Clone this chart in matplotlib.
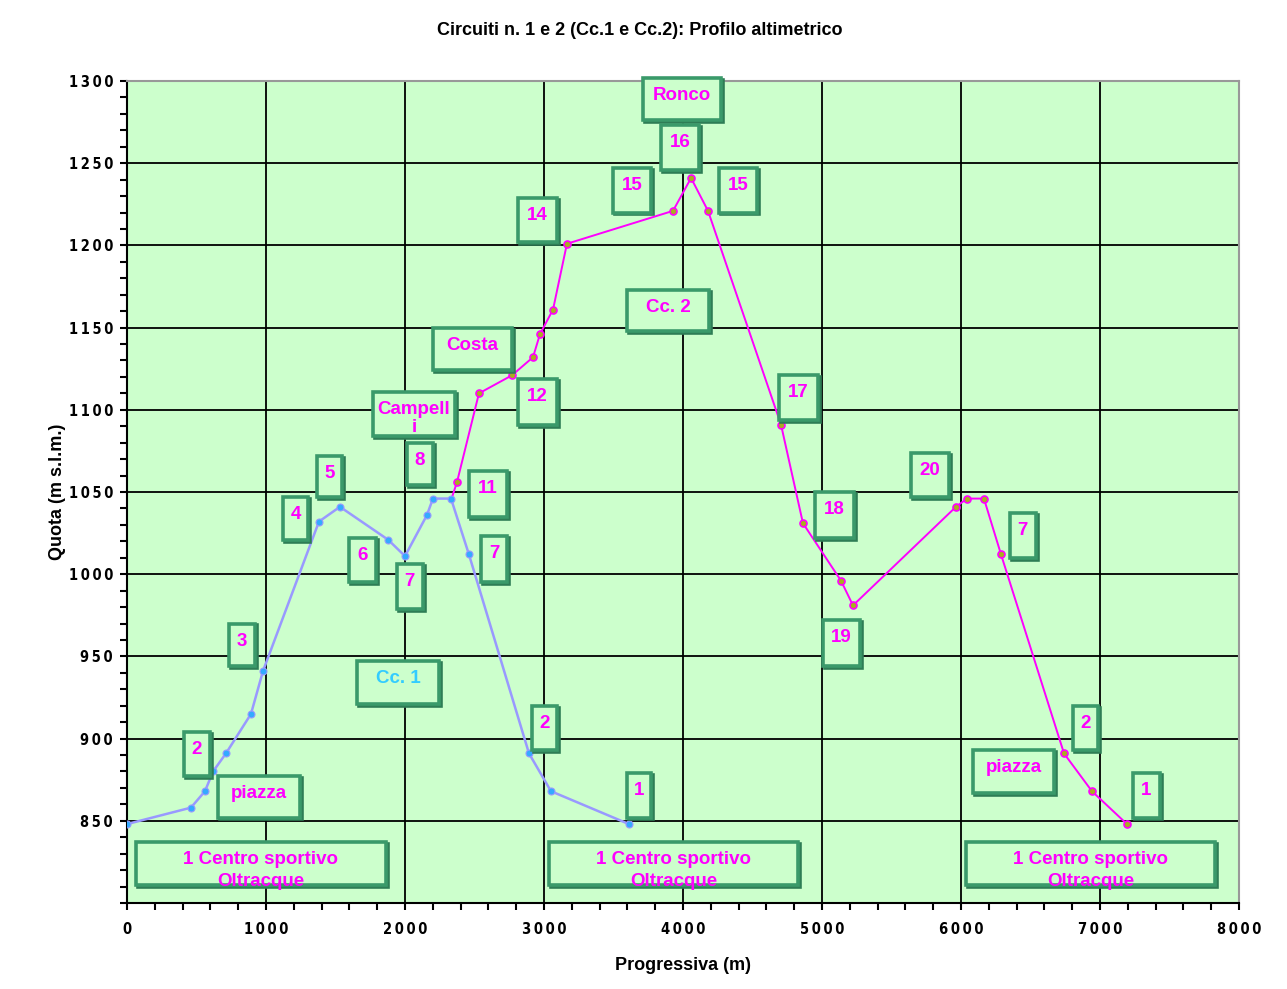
import matplotlib
matplotlib.use("Agg")
import matplotlib.pyplot as plt
from matplotlib.patches import Rectangle

# Cc.1 profile (progressiva m, quota m s.l.m.)
cc1_x = [0, 460, 561, 619, 712, 892, 978, 1381, 1532, 1878, 2000, 2158, 2201,
         2331, 2460, 2892, 3050, 3611]
cc1_y = [848, 858, 868, 880, 891, 915, 941, 1032, 1041, 1021, 1011, 1036, 1046,
         1046, 1012, 891, 868, 848]

# Cc.2 profile (diverges from Cc.1 after point 7)
cc2_x = [2331, 2374, 2532, 2770, 2921, 2971, 3065, 3165, 3928, 4058, 4180, 4705,
         4863, 5137, 5223, 5964, 6043, 6165, 6288, 6741, 6942, 7194]
cc2_y = [1045, 1056, 1110, 1121, 1132, 1146, 1161, 1201, 1221, 1241, 1221, 1091,
         1031, 996, 981, 1041, 1046, 1046, 1012, 891, 868, 848]

x_ticks = [0, 1000, 2000, 3000, 4000, 5000, 6000, 7000, 8000]
y_ticks = [800, 850, 900, 950, 1000, 1050, 1100, 1150, 1200, 1250, 1300]

# label boxes: text, x0, x1, y_bottom, y_top, text colour
labels = [
    ("Ronco", 3710, 4275, 1276, 1302, "m"),
    ("16", 3840, 4115, 1246, 1273, "m"),
    ("15", 3495, 3770, 1220, 1247, "m"),
    ("15", 4260, 4530, 1220, 1247, "m"),
    ("14", 2813, 3093, 1202, 1229, "m"),
    ("Cc. 2", 3597, 4187, 1148, 1173, "m"),
    ("Costa", 2201, 2770, 1124, 1150, "m"),
    ("12", 2813, 3093, 1091, 1119, "m"),
    ("Campell\ni", 1770, 2360, 1084, 1111, "m"),
    ("17", 4690, 4970, 1094, 1121, "m"),
    ("8", 2014, 2201, 1054, 1080, "m"),
    ("5", 1367, 1547, 1047, 1072, "m"),
    ("20", 5640, 5913, 1047, 1074, "m"),
    ("11", 2460, 2734, 1035, 1063, "m"),
    ("4", 1122, 1302, 1021, 1047, "m"),
    ("18", 4949, 5230, 1022, 1050, "m"),
    ("7", 6352, 6539, 1010, 1037, "m"),
    ("6", 1597, 1791, 995, 1022, "m"),
    ("7", 2547, 2734, 995, 1023, "m"),
    ("7", 1942, 2129, 979, 1006, "m"),
    ("3", 734, 921, 944, 970, "m"),
    ("19", 5007, 5273, 944, 972, "m"),
    ("Cc. 1", 1655, 2245, 921, 947, "c"),
    ("2", 2914, 3093, 893, 920, "m"),
    ("2", 6806, 6985, 893, 920, "m"),
    ("2", 410, 597, 877, 904, "m"),
    ("piazza", 655, 1245, 852, 877, "m"),
    ("piazza", 6086, 6669, 867, 893, "m"),
    ("1", 3597, 3770, 852, 879, "m"),
    ("1", 7237, 7431, 852, 879, "m"),
    ("1 Centro sportivo\nOltracque", 65, 1863, 811, 837, "m"),
    ("1 Centro sportivo\nOltracque", 3036, 4827, 811, 837, "m"),
    ("1 Centro sportivo\nOltracque", 6036, 7827, 811, 837, "m"),
]
text_colors = {"m": "#ff00ff", "c": "#33ccff"}

plt.rcParams['font.family'] = ['Liberation Sans', 'DejaVu Sans']

fig = plt.figure(figsize=(12.87, 9.89), dpi=100)
ax = fig.add_axes([127 / 1287, 86 / 989, 1112 / 1287, 822 / 989])
ax.set_facecolor("#ccffcc")


def spaced(v):
    return "\u2009".join(str(v))


ax.set_xlim(0, 8000)
ax.set_ylim(800, 1300)
ax.set_xticks(x_ticks)
ax.set_xticklabels([spaced(v) for v in x_ticks])
ax.set_yticks(y_ticks)
ax.set_yticklabels([""] + [spaced(v) for v in y_ticks[1:]])
ax.set_xticks(range(0, 8001, 200), minor=True)
ax.set_yticks(range(800, 1301, 10), minor=True)
ax.tick_params(which="both", direction="out", width=1.5, length=5, colors="black")
ax.tick_params(axis="x", which="major", pad=9)
ax.tick_params(axis="y", which="major", pad=5)
for t in ax.get_xticklabels() + ax.get_yticklabels():
    t.set_fontfamily(["DejaVu Sans"])
    t.set_fontweight("bold")
    t.set_fontsize(10.5)
    t.set_fontstretch("condensed")

ax.grid(True, which="major", color="black", linewidth=1.3)
ax.set_axisbelow(True)
for side in ["left", "bottom"]:
    ax.spines[side].set_linewidth(1.5)
for side in ["top", "right"]:
    ax.spines[side].set_color("#999999")
    ax.spines[side].set_linewidth(1.5)

ax.plot(cc2_x, cc2_y, color="#ff00ff", linewidth=1.4, marker="o", markersize=5,
        markerfacecolor="#aaaa22", markeredgecolor="#ff00ff", markeredgewidth=1.2,
        markevery=slice(1, None), zorder=3)
ax.plot(cc1_x, cc1_y, color="#9999ff", linewidth=1.8, marker="o", markersize=5,
        markerfacecolor="#33aaff", markeredgecolor="#9999ff", markeredgewidth=0.8,
        zorder=4)

for txt, x0, x1, y0, y1, c in labels:
    shadow = Rectangle((x0 + 15, y0 - 1.2), x1 - x0, y1 - y0, facecolor="none",
                       edgecolor="#2e7d55", linewidth=2.6, clip_on=False, zorder=4.5)
    box = Rectangle((x0, y0), x1 - x0, y1 - y0, facecolor="#ccffcc",
                    edgecolor="#3a9a6a", linewidth=2.6, clip_on=False, zorder=5)
    ax.add_patch(shadow)
    ax.add_patch(box)
    centro = "Centro" in txt
    t = ax.text((x0 + x1) / 2, y1 - 5.5, txt, ha="center", va="top",
                fontsize=13.5, fontweight="bold", color=text_colors[c],
                linespacing=1.35 if centro else 1.1, zorder=6)
    if centro:
        t.set_clip_path(box)

fig.text(0.497, 0.969, "Circuiti n. 1 e 2 (Cc.1 e Cc.2): Profilo altimetrico",
         ha="center", va="center", fontsize=13, fontweight="bold")
fig.text(0.531, 0.024, "Progressiva (m)", ha="center", va="center",
         fontsize=13, fontweight="bold")
fig.text(0.045, 0.503, "Quota (m s.l.m.)", ha="center", va="center",
         rotation=90, fontsize=13, fontweight="bold")

fig.savefig("out.png", dpi=100)
